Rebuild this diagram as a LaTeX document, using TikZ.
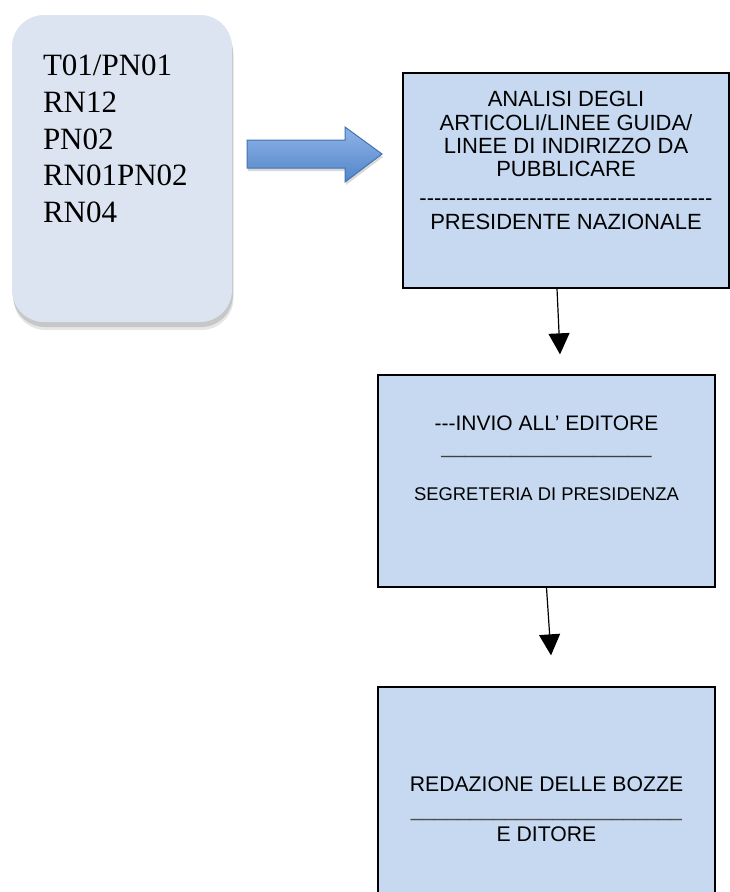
\documentclass[tikz,border=0pt]{standalone}
\usepackage{fontspec}
\setmainfont{Liberation Serif}
\newfontfamily\boxfont{Liberation Sans}[Ligatures=TeXOff]
\usetikzlibrary{positioning,arrows.meta,shadows}
\definecolor{boxblue}{HTML}{C6D9F1}
\definecolor{srcblue}{HTML}{DBE4F0}
\definecolor{arrtop}{HTML}{8EB4E8}
\definecolor{arrbot}{HTML}{5285C8}
\definecolor{arredge}{HTML}{4272B0}

\begin{document}
\begin{tikzpicture}[x=1pt,y=-1pt,
    stepbox/.style={draw=black,line width=1.3pt,fill=boxblue,minimum width=337pt,minimum height=212pt,inner sep=0pt},
    boxtext/.style={inner sep=0pt,align=center,font=\boxfont\fontsize{21}{23.3}\selectfont},
    flow/.style={line width=1.2pt,-{Triangle[length=21pt,width=21pt]}}]
        \useasboundingbox (0,0) rectangle (730,892);
        \clip (0,0) rectangle (730,892);
        % left box with the codes
        \node[fill=srcblue,rounded corners=32pt,minimum width=220pt,minimum height=307pt,inner sep=0pt,
              drop shadow={shadow xshift=1.5pt,shadow yshift=-8pt,opacity=.2},
              drop shadow={shadow xshift=1pt,shadow yshift=-5pt,opacity=.3}] (src) at (122,168.5) {};
        \node[font=\fontsize{31}{36.7}\selectfont,align=left,inner sep=0pt,below right=40pt and 31pt of src.north west] (codes)
              {T01/PN01\\RN12\\PN02\\RN01PN02\\RN04};
        % block arrow
        \draw[arredge,line width=1pt,top color=arrtop,bottom color=arrbot,
              drop shadow={shadow xshift=1pt,shadow yshift=-3pt,opacity=.3}]
              (247,140) -- (345,140) -- (345,127) -- (382,154) -- (345,182) -- (345,168) -- (247,168) -- cycle;
        % the three steps
        \node[stepbox,minimum width=326pt,minimum height=215pt] (anl) at (566,180.5) {};
        \node[stepbox] (inv) at (546.5,481) {};
        \node[stepbox,minimum height=213pt] (red) at (546.5,793.5) {};
        \node[boxtext,font=\boxfont\fontsize{22}{23.3}\selectfont,below=19pt of anl.north] (anltext)
              {ANALISI DEGLI\\ARTICOLI/LINEE GUIDA/\\LINEE DI INDIRIZZO DA\\PUBBLICARE\\[5.7pt]----------------------------------------\\[0.7pt]PRESIDENTE NAZIONALE};
        \node[boxtext,below=41pt of inv.north] (invtext)
              {---INVIO ALL’ EDITORE\\\textcolor{black!75}{\_\_\_\_\_\_\_\_\_\_\_\_\_\_\_\_\_\_}\\[24pt]{\fontsize{18.4}{23}\selectfont SEGRETERIA DI PRESIDENZA}};
        \node[boxtext,font=\boxfont\fontsize{21.2}{25}\selectfont,below=90pt of red.north] (redtext)
              {REDAZIONE DELLE BOZZE\\\textcolor{black!70}{\_\_\_\_\_\_\_\_\_\_\_\_\_\_\_\_\_\_\_\_\_\_\_}\\E DITORE};
        % \draw[flow] (anl) -- (inv);
        \draw[flow] ([xshift=-9pt]anl.south) -- ([xshift=13.5pt,yshift=20pt]inv.north);
        \draw[flow] (inv.south) -- ([xshift=4.5pt,yshift=31pt]red.north);
      \end{tikzpicture}
\end{document}
